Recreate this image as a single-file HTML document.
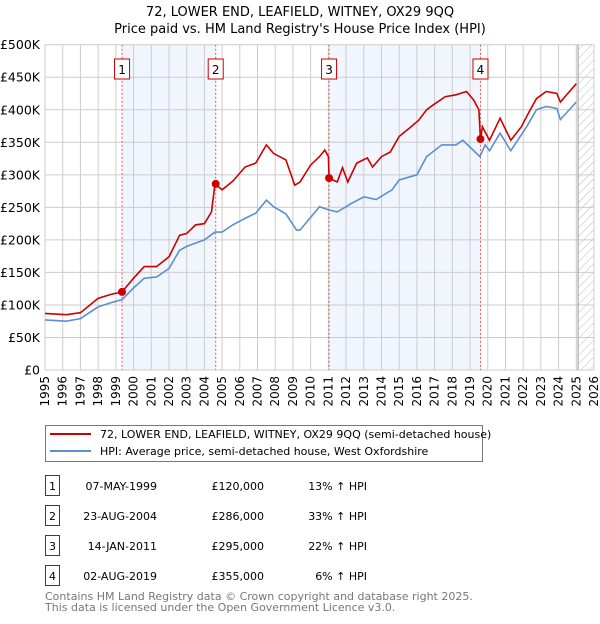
<!DOCTYPE html>
<html><head><meta charset="utf-8"><style>
body{margin:0;background:#fff;font-family:"DejaVu Sans","Liberation Sans",sans-serif;}
svg text{font-family:"DejaVu Sans","Liberation Sans",sans-serif;}
</style></head><body>
<svg id="c" width="600" height="620" xmlns="http://www.w3.org/2000/svg">
<defs><pattern id="hatch" width="6" height="6" patternUnits="userSpaceOnUse" patternTransform="rotate(45)"><line x1="0" y1="0" x2="0" y2="6" stroke="#bbb" stroke-width="1"/></pattern></defs>
<text x="300" y="16" text-anchor="middle" font-size="13">72, LOWER END, LEAFIELD, WITNEY, OX29 9QQ</text>
<text x="300" y="33" text-anchor="middle" font-size="13">Price paid vs. HM Land Registry's House Price Index (HPI)</text>
<g id="plot"></g>
</svg>
<script>
const xTicks=[1995,1996,1997,1998,1999,2000,2001,2002,2003,2004,2005,2006,2007,2008,2009,2010,2011,2012,2013,2014,2015,2016,2017,2018,2019,2020,2021,2022,2023,2024,2025,2026];
const yTicks=[0,50,100,150,200,250,300,350,400,450,500];
const yTickLabels=["£0","£50K","£100K","£150K","£200K","£250K","£300K","£350K","£400K","£450K","£500K"];
const hpiYears=[1995,1996.2,1997,1998,1998.8,1999.35,2000,2000.6,2001.3,2002,2002.6,2003,2003.5,2004,2004.6,2005,2005.6,2006.3,2006.9,2007.5,2007.9,2008.6,2009.2,2009.4,2010.5,2011.04,2011.5,2012,2012.3,2013,2013.7,2014.6,2015,2016,2016.55,2017.4,2018.2,2018.6,2019.56,2019.85,2020.1,2020.7,2021.3,2022.2,2022.75,2023.3,2023.9,2024.1,2025.0];
const hpiValues=[77,75,79,97,104,108,126,141,143,156,184,190,195,200,212,212,223,233,241,261,251,240,215,215,251,246,243,251,256,266,262,277,292,300,328,346,346,353,328,346,337,364,337,374,400,405,402,385,412];
const priceYears=[1995,1996.2,1997,1998,1998.7,1999.35,2000,2000.6,2001.3,2002,2002.6,2003,2003.5,2004,2004.4,2004.6,2005,2005.6,2006.3,2006.9,2007.5,2007.9,2008.6,2009.1,2009.4,2010.0,2010.5,2010.8,2011.0,2011.04,2011.5,2011.8,2012.1,2012.6,2013.2,2013.5,2014,2014.5,2015,2015.5,2016.1,2016.55,2016.9,2017.6,2018.2,2018.8,2019.2,2019.5,2019.59,2019.7,2020.1,2020.7,2021.3,2021.9,2022.3,2022.75,2023.3,2023.9,2024.1,2025.0];
const priceValues=[87,85,88,110,116,120,141,159,159,174,207,210,223,225,243,286,277,290,312,318,346,333,323,284,289,315,328,338,328,295,289,311,289,318,326,312,328,335,359,370,384,400,407,420,423,428,415,400,353,374,353,387,353,374,395,417,428,425,412,440];
const saleYears=[1999.35,2004.64,2011.04,2019.59];
const saleValues=[120,286,295,355];
const saleLabels=["1","2","3","4"];
const L=45,R=594,T=44.7,B=370;
const X=y=>L+(y-1995)/(2026-1995)*(R-L);
const Y=v=>B-v/500*(B-T);
const NS="http://www.w3.org/2000/svg";
const g=document.getElementById('plot');
function mk(t,a,p){const e=document.createElementNS(NS,t);for(const k in a)e.setAttribute(k,a[k]);(p||g).appendChild(e);return e;}
// shading
let s1=mk('rect',{x:X(saleYears[0]),y:T,width:X(saleYears[1])-X(saleYears[0]),height:B-T,fill:'#eef3fc',opacity:0.8});


let s2=mk('rect',{x:X(saleYears[2]),y:T,width:X(saleYears[3])-X(saleYears[2]),height:B-T,fill:'#eef3fc',opacity:0.8});


let h=mk('rect',{x:X(2025.1),y:T,width:R-X(2025.1),height:B-T,fill:'url(#hatch)'});


// grid
xTicks.forEach(t=>{
 let l=mk('line',{x1:X(t),x2:X(t),y1:T,y2:B,stroke:'#ccc','stroke-width':1});
 
 
 let tx=mk('text',{x:0,y:0,'font-size':12,'text-anchor':'end',transform:`translate(${X(t)+4},${B+6}) rotate(-90)`});
 tx.textContent=t;
 
 
});
yTicks.forEach((t,i)=>{
 let l=mk('line',{x1:L,x2:R,y1:Y(t),y2:Y(t),stroke:'#ccc','stroke-width':1});
 
 
 let tx=mk('text',{x:40,y:Y(t)+4.5,'font-size':12.5,'text-anchor':'end'});
 tx.textContent=yTickLabels[i];
 
 
});
let nl=mk('line',{x1:X(2025.1),x2:X(2025.1),y1:T,y2:B,stroke:'#999','stroke-width':1});


// sale vlines
saleYears.forEach(s=>{
 let l=mk('line',{x1:X(s),x2:X(s),y1:T,y2:B,stroke:'#e55','stroke-width':1,'stroke-dasharray':'2,2'});
 
 
});
function path(xs,vs){return xs.map((x,i)=>(i?'L':'M')+X(x).toFixed(1)+','+Y(vs[i]).toFixed(1)).join('');}
let hp=mk('path',{d:path(hpiYears,hpiValues),fill:'none',stroke:'#5b8fd0','stroke-width':1.6});


let pp=mk('path',{d:path(priceYears,priceValues),fill:'none',stroke:'#cc0000','stroke-width':1.6});


saleYears.forEach((s,i)=>{
 let c=mk('circle',{cx:X(s),cy:Y(saleValues[i]),r:4,fill:'#cc0000'});
 
 
 let r=mk('rect',{x:X(s)-7.5,y:59,width:15,height:20,fill:'#fff',stroke:'#cc0000','stroke-width':1});
 
 
 let t=mk('text',{x:X(s),y:74,'font-size':12,'text-anchor':'middle'});
 t.textContent=saleLabels[i];
 
 
});
// legend
let lg=mk('rect',{x:45.5,y:425.5,width:437,height:36,fill:'#fff',stroke:'#777','stroke-width':1});


mk('line',{x1:50,x2:91,y1:434,y2:434,stroke:'#cc0000','stroke-width':2});
mk('line',{x1:50,x2:91,y1:451,y2:451,stroke:'#5b8fd0','stroke-width':2});
let l1=mk('text',{x:100,y:438,'font-size':11});l1.textContent='72, LOWER END, LEAFIELD, WITNEY, OX29 9QQ (semi-detached house)';


let l2=mk('text',{x:100,y:455,'font-size':11});l2.textContent='HPI: Average price, semi-detached house, West Oxfordshire';


// table
const rows=[["1","07-MAY-1999","£120,000","13% ↑ HPI"],["2","23-AUG-2004","£286,000","33% ↑ HPI"],["3","14-JAN-2011","£295,000","22% ↑ HPI"],["4","02-AUG-2019","£355,000","6% ↑ HPI"]];
rows.forEach((r,i)=>{
 const y=476+i*30;
 let b=mk('rect',{x:45.5,y:y-0.5,width:14,height:20,fill:'#fff',stroke:'#cc0000','stroke-width':1});
 
 
 let t0=mk('text',{x:52.5,y:y+14,'font-size':11,'text-anchor':'middle'});t0.textContent=r[0];
 let t1=mk('text',{x:157,y:y+14,'font-size':11,'text-anchor':'end'});t1.textContent=r[1];
 
 
 let t2=mk('text',{x:264,y:y+14,'font-size':11,'text-anchor':'end'});t2.textContent=r[2];
 
 
 let t3=mk('text',{x:367,y:y+14,'font-size':11,'text-anchor':'end'});t3.textContent=r[3];
 
 
});
let f1=mk('text',{x:45,y:600,'font-size':11,fill:'#777'});f1.textContent='Contains HM Land Registry data © Crown copyright and database right 2025.';


let f2=mk('text',{x:45,y:611,'font-size':11,fill:'#777'});f2.textContent='This data is licensed under the Open Government Licence v3.0.';


</script>
</body></html>
